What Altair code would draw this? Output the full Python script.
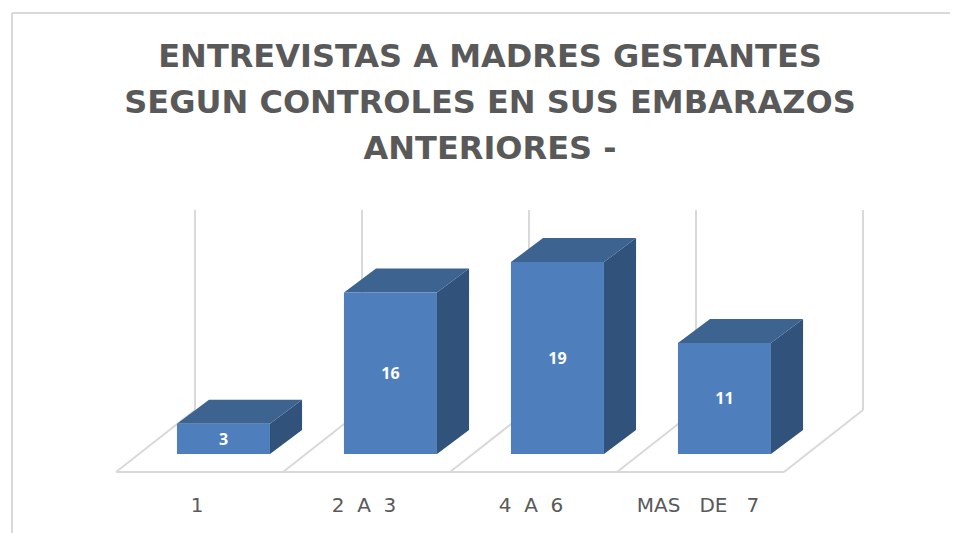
import json
import altair as alt
import pandas as pd

NB = "\u00a0\u00a0"
NB3 = "\u00a0\u00a0\u00a0"
categories = ["1", f"2{NB}A{NB}3", f"4{NB}A{NB}6", f"MAS{NB3}DE{NB3}7"]
values = [3, 16, 19, 11]
title_lines = [
    "ENTREVISTAS A MADRES GESTANTES",
    "SEGUN CONTROLES EN SUS EMBARAZOS",
    "ANTERIORES -",
]

# Projection of the pseudo-3D scene, in data units (1 x unit = one category)
BAR_START, BAR_W = 0.365, 0.557
DEPTH_X, DEPTH_Y = 0.192, 2.376
FLOOR_Y, BACK_Y, WALL_TOP = -1.78, 4.36, 24.16
BACK_X = 0.473

n = len(categories)
x_scale = alt.Scale(domain=[-0.6467, 4.994], nice=False, zero=False)
y_scale = alt.Scale(domain=[-7.82, 44.16], nice=False, zero=False)
x_axis = alt.Axis(
    values=[k + 0.5 for k in range(n)],
    labelExpr=f"{json.dumps(categories)}[floor(datum.value)]",
    domain=False, ticks=False, grid=False, title=None, offset=-17,
    labelPadding=-21, labelOffset=-3, labelFont="DejaVu Sans", labelFontSize=20,
    labelColor="#595959", labelOverlap=False, labelFlush=False,
)
X = lambda f: alt.X(f, type="quantitative", scale=x_scale, axis=x_axis)
Y = lambda f: alt.Y(f, type="quantitative", scale=y_scale, axis=None)

bars = pd.DataFrame({"i": range(n), "cat": categories, "v": values})
bars["x0"] = bars.i + BAR_START
bars["x1"] = bars.x0 + BAR_W
bars["xm"] = bars.x0 + BAR_W / 2
bars["ym"] = bars.v / 2
bars["base"] = 0

side = pd.concat([
    pd.DataFrame({"cat": categories, "x": bars.x1, "lo": 0.0, "hi": bars.v}),
    pd.DataFrame({"cat": categories, "x": bars.x1 + DEPTH_X, "lo": DEPTH_Y, "hi": bars.v + DEPTH_Y}),
])
top = pd.concat([
    pd.DataFrame({"cat": categories, "y": bars.v, "l": bars.x0, "r": bars.x1}),
    pd.DataFrame({"cat": categories, "y": bars.v + DEPTH_Y, "l": bars.x0 + DEPTH_X, "r": bars.x1 + DEPTH_X}),
])

floor_rows = []
for k in range(n + 1):
    floor_rows.append({"id": f"d{k}", "x": k, "y": FLOOR_Y})
    floor_rows.append({"id": f"d{k}", "x": k + BACK_X, "y": BACK_Y})
    floor_rows.append({"id": f"w{k}", "x": k + BACK_X, "y": BACK_Y})
    floor_rows.append({"id": f"w{k}", "x": k + BACK_X, "y": WALL_TOP})
floor_rows.append({"id": "front", "x": 0, "y": FLOOR_Y})
floor_rows.append({"id": "front", "x": n, "y": FLOOR_Y})
floor = pd.DataFrame(floor_rows)

GRID = "#d9d9d9"

floor_layer = alt.Chart(floor).mark_line(color=GRID, strokeWidth=2).encode(
    x=X("x"), y=Y("y"), detail="id:N",
)
side_layer = alt.Chart(side).mark_area(color="#31527b", orient="vertical").encode(
    x=X("x"), y=Y("lo"), y2="hi:Q", detail="cat:N",
)
top_layer = alt.Chart(top).mark_area(color="#3d6390", orient="horizontal").encode(
    y=Y("y"), x=X("l"), x2="r:Q", detail="cat:N",
)
front_layer = alt.Chart(bars).mark_rect(color="#4e7fbc").encode(
    x=X("x0"), x2="x1:Q", y=Y("base"), y2="v:Q",
)
label_layer = alt.Chart(bars).mark_text(
    color="white", font="Open Sans", fontWeight="bold", fontSize=16, baseline="middle", dy=1,
).encode(x=X("xm"), y=Y("ym"), text="v:Q")

frame_top = alt.Chart(bars).mark_rule(color=GRID, strokeWidth=2).encode(
    x=alt.value(4), x2=alt.value(942), y=alt.value(5),
)
frame_left = alt.Chart(bars).mark_rule(color=GRID, strokeWidth=2).encode(
    x=alt.value(4), y=alt.value(5), y2=alt.value(525),
)

chart = alt.layer(
    frame_top, frame_left, floor_layer, side_layer, top_layer, front_layer, label_layer,
).properties(
    width=942,
    height=525,
    padding=0,
    autosize=alt.AutoSizeParams(type="none"),
    title=alt.TitleParams(
        text=title_lines, anchor="start", align="center", font="DejaVu Sans", fontWeight="bold",
        fontSize=32, color="#595959", lineHeight=46, dy=162, dx=482,
    ),
).configure_view(stroke=None)

chart.save("out.html", embed_options={"renderer": "svg", "actions": False})
